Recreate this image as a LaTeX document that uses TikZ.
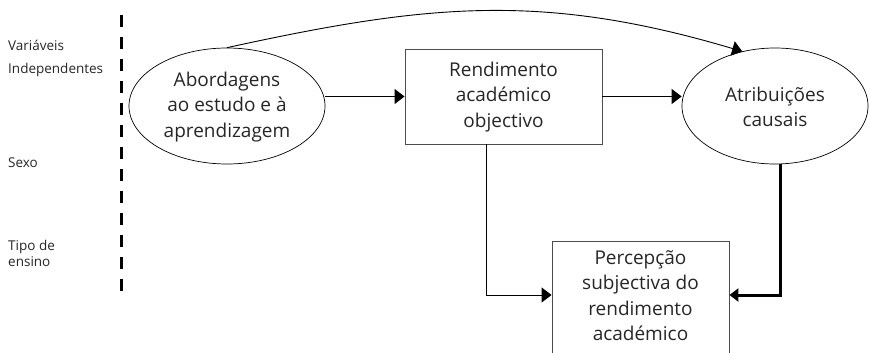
\documentclass[tikz,border=0pt]{standalone}
\usepackage{fontspec}
\setmainfont{Open Sans}
\usetikzlibrary{shapes.geometric,arrows.meta}
\begin{document}
\begin{tikzpicture}[x=1pt,y=-1pt,
  main/.style={font=\fontsize{19}{25.3}\selectfont, align=center, text=black!85},
  small/.style={font=\fontsize{13.5}{16}\selectfont, anchor=base west, text=black!85, inner sep=0},
  ell/.style={draw, ellipse, inner sep=0, line width=0.7pt},
  boxx/.style={draw=black!70, rectangle, inner sep=0, line width=0.9pt},
  conn/.style={line width=0.9pt, -{Triangle[length=10pt,width=15pt]}},
  thickconn/.style={line width=3pt, -{Triangle[length=9pt,width=13pt]}}]
\useasboundingbox (0,0) rectangle (870,353);
\clip (0,0) rectangle (870,353);
% divider
\coordinate (dtop) at (121,15);
\coordinate (dbot) at (121,297);
\draw[line width=3pt, dash pattern=on 12pt off 10pt] (dtop) -- (dbot);
% side labels
\node[small] (l1) at (8,51) {Variáveis};
\node[small] (l2) at (8,74) {Independentes};
\node[small] (l3) at (8,167) {Sexo};
\node[small, align=left, anchor=north west] (l4) at (8,240) {Tipo de\\ensino};
% nodes
\node[ell, minimum width=196, minimum height=116] (e1) at (227,106) {};
\node[main] (t1) at (227,107) {Abordagens\\ao estudo e à\\aprendizagem};
\node[boxx, minimum width=197, minimum height=95] (r1) at (503.5,96.5) {};
\node[main] (t2) at (503.5,97) {Rendimento\\académico\\objectivo};
\node[ell, minimum width=186, minimum height=116] (e2) at (775,106) {};
\node[main] (t3) at (775,107) {Atribuições\\causais};
\node[boxx, minimum width=177, minimum height=140, anchor=north] (b) at (640.5,241) {};
\node[main, anchor=north] (t4) at (640.5,247) {Percepção\\subjectiva do\\rendimento\\académico};
% connectors
\coordinate (j) at (640,295);
\draw[conn] (e1.east |- r1.west) -- (r1.west);
\draw[conn] (r1.east) -- (e2.west |- r1.east);
\draw[conn] (e1.north) .. controls (427,4) and (542,-8) .. (e2.121);
\draw[conn] ([xshift=-17.5pt]r1.south) |- (b.west |- j);
\draw[thickconn] ([xshift=5pt]e2.south) |- (b.east |- j);
\end{tikzpicture}
\end{document}
